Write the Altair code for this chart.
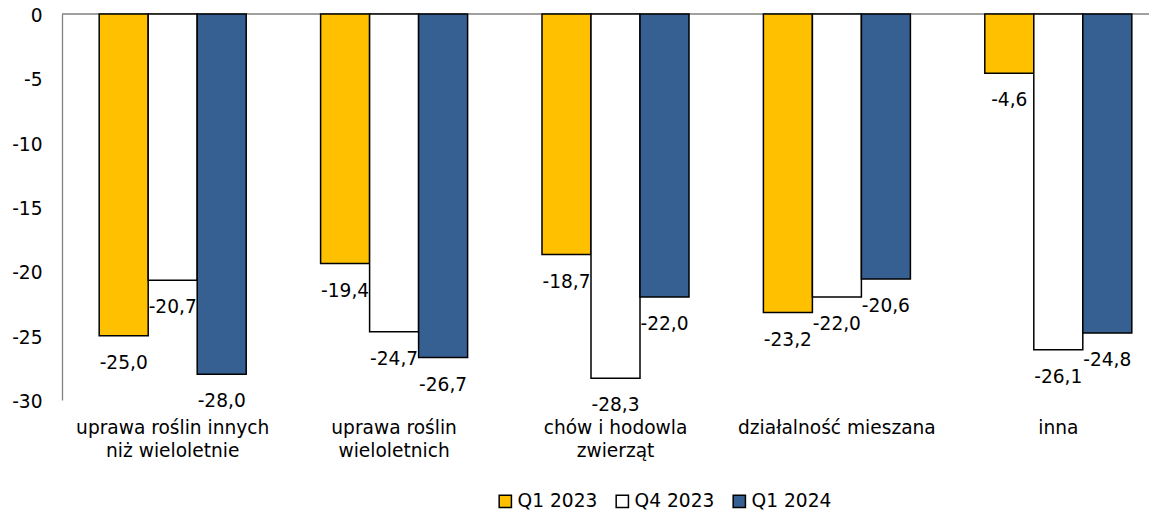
import altair as alt
import pandas as pd

categories = ["uprawa roślin innych|niż wieloletnie", "uprawa roślin|wieloletnich",
              "chów i hodowla|zwierząt", "działalność mieszana", "inna"]
series = ["Q1 2023", "Q4 2023", "Q1 2024"]
q1_2023 = [-25.0, -19.4, -18.7, -23.2, -4.6]
q4_2023 = [-20.7, -24.7, -28.3, -22.0, -26.1]
q1_2024 = [-28.0, -26.7, -22.0, -20.6, -24.8]
colors = ["#FFC000", "#FFFFFF", "#376092"]
y_ticks = [0, -5, -10, -15, -20, -25, -30]

rows = []
for s, vals in zip(series, [q1_2023, q4_2023, q1_2024]):
    for c, v in zip(categories, vals):
        rows.append({"cat": c, "series": s, "v": v})
df = pd.DataFrame(rows)

FONT = "DejaVu Sans"
FS = 18.6

x_enc = alt.X("cat:N", sort=categories,
              scale=alt.Scale(range=[0, 1107], paddingInner=0.336, paddingOuter=0.168),
              axis=alt.Axis(title=None, orient="bottom", domain=False, ticks=False,
                            labelAngle=0, labelPadding=18, labelFontSize=FS,
                            labelLineHeight=23, labelColor="black", labelBaseline="top",
                            labelLimit=0,
                            labelExpr="split(datum.label, '|')"))
xo_enc = alt.XOffset("series:N", sort=series, scale=alt.Scale(paddingInner=0, paddingOuter=0))
y_enc = alt.Y("v:Q", scale=alt.Scale(domain=[-30, 0], nice=False, zero=False),
              axis=alt.Axis(title=None, values=y_ticks, grid=False, ticks=False, tickSize=0,
                            labelPadding=20, labelFontSize=FS, labelColor="black",
                            labelOffset=1.5,
                            labelExpr="(datum.value < 0 ? '-' : '') + abs(datum.value)",
                            domainColor="#808080", domainWidth=1.3))

base = alt.Chart(df)

zero_rule = alt.Chart(pd.DataFrame({"z": [0]})).mark_rule(color="#808080", strokeWidth=1.5).encode(
    y=alt.Y("z:Q"))

bars = base.mark_bar(stroke="black", strokeWidth=1.5).encode(
    x=x_enc, xOffset=xo_enc, y=y_enc, y2=alt.datum(0),
    color=alt.Color("series:N", sort=series,
                    scale=alt.Scale(domain=series, range=colors),
                    legend=alt.Legend(orient="none", legendX=434, legendY=478,
                                      direction="horizontal", title=None,
                                      symbolType="square", symbolSize=150,
                                      symbolStrokeColor="black", symbolStrokeWidth=1.5,
                                      labelFontSize=FS, labelColor="black",
                                      columnPadding=15, labelOffset=3)))

labels = base.transform_calculate(
    lab="(datum.v < 0 ? '-' : '') + replace(format(abs(datum.v), '.1f'), '.', ',')"
).mark_text(fontSize=FS, dy=27, baseline="middle", align="center", color="black").encode(
    x=alt.X("cat:N", sort=categories), xOffset=xo_enc, y=alt.Y("v:Q"), text="lab:N")

chart = alt.layer(zero_rule, bars, labels).properties(
    width=1087, height=386,
    autosize=alt.AutoSizeParams(type="none"),
    padding={"left": 54, "top": 6, "right": 0, "bottom": 112},
).configure(font=FONT).configure_view(stroke=None)

chart.save("out.html", embed_options={"renderer": "svg", "actions": False})
